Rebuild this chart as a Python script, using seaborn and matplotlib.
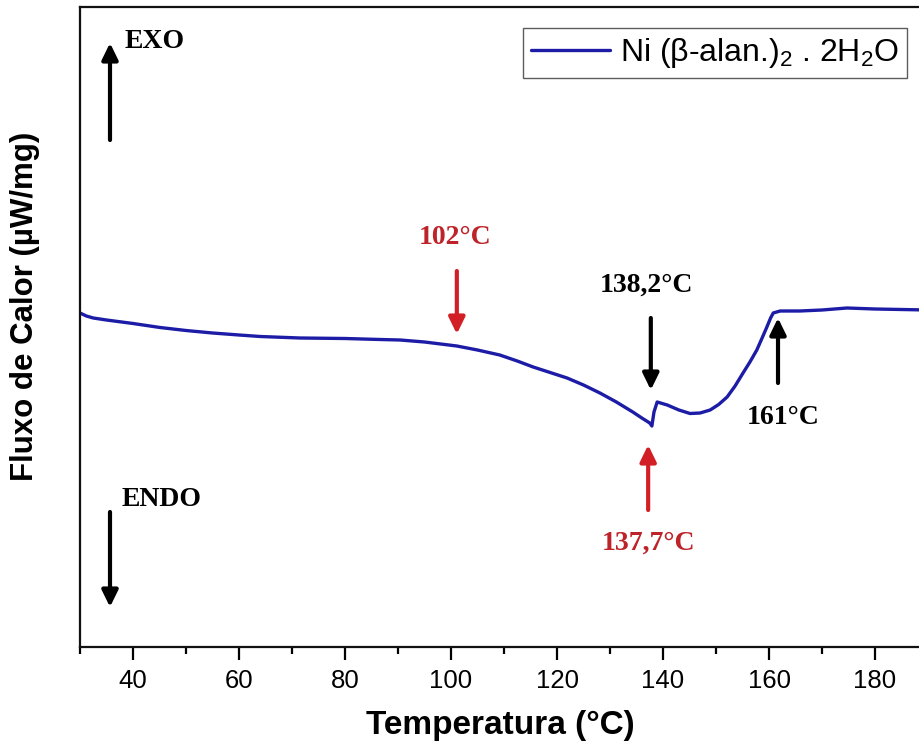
import matplotlib
matplotlib.use("Agg")
import matplotlib.pyplot as plt
import seaborn as sns
import pandas as pd

# ---- data ----
temperature = [30.0, 31.2, 32.5, 35.0, 40.0, 45.1, 50.0, 55.0, 60.0, 64.0,
               71.5, 80.0, 86.6, 90.4, 95.0, 101.1, 105.0, 109.2, 112.5, 115.5,
               118.7, 121.9, 125.0, 128.1, 131.2, 134.3, 136.0, 137.5, 137.9, 138.3,
               138.9, 140.8, 143.0, 145.1, 147.0, 148.9, 150.5, 152.1, 153.6, 155.1,
               156.4, 157.7, 158.7, 159.6, 160.3, 160.8, 162.1, 165.8, 170.0, 174.7,
               180.0, 185.0, 190.0]
heat_flow = [3.34, 3.31, 3.29, 3.27, 3.235, 3.195, 3.165, 3.14, 3.12, 3.105,
             3.09, 3.085, 3.075, 3.07, 3.05, 3.01, 2.97, 2.92, 2.86, 2.80,
             2.745, 2.69, 2.62, 2.54, 2.45, 2.35, 2.29, 2.24, 2.21, 2.35,
             2.45, 2.42, 2.37, 2.335, 2.34, 2.37, 2.425, 2.50, 2.61, 2.74,
             2.85, 2.97, 3.09, 3.20, 3.29, 3.34, 3.36, 3.36, 3.37, 3.39,
             3.38, 3.375, 3.37]
series_label = "Ni (β-alan.)$_2$ . 2H$_2$O"
x_ticks = [40, 60, 80, 100, 120, 140, 160, 180]

sns.set_theme(style="white")
plt.rcParams["font.family"] = ["Liberation Sans", "DejaVu Sans"]
plt.rcParams["mathtext.fontset"] = "custom"
plt.rcParams["mathtext.rm"] = "Liberation Sans"
plt.rcParams["mathtext.it"] = "Liberation Sans:italic"
plt.rcParams["mathtext.bf"] = "Liberation Sans:bold"
plt.rcParams["text.color"] = "black"
plt.rcParams["axes.labelcolor"] = "black"
plt.rcParams["xtick.color"] = "black"
plt.rcParams["ytick.color"] = "black"
plt.rcParams["legend.labelcolor"] = "black"

fig = plt.figure(figsize=(9.19, 7.51), dpi=100)
ax = fig.add_axes([80 / 919, 104 / 751, 848 / 919, 640 / 751])

df = pd.DataFrame({"T": temperature, "flux": heat_flow})
sns.lineplot(data=df, x="T", y="flux", ax=ax, sort=False, estimator=None,
             color="#1c1ca6", linewidth=2.4, label=series_label)

ax.set_xlim(30, 190)
ax.set_ylim(0, 6.40)
ax.set_xticks(x_ticks)
ax.set_xticks(range(30, 191, 20), minor=True)
ax.set_yticks([])
ax.tick_params(axis="x", which="major", direction="out", length=9, width=1.6,
               labelsize=18.5, pad=7, bottom=True, colors="black")
ax.tick_params(axis="x", which="minor", direction="out", length=5, width=1.6, bottom=True,
               colors="black")
for s in ["left", "top", "bottom", "right"]:
    ax.spines[s].set_color("#111111")
    ax.spines[s].set_linewidth(1.6)

ax.set_xlabel("Temperatura (°C)", fontsize=24, fontweight="bold", color="black")
ax.xaxis.label.set_va("top")
ax.xaxis.set_label_coords((500 - 80) / 848, (647 - 710) / 640)
ax.set_ylabel("Fluxo de Calor (µW/mg)", fontsize=22.5, fontweight="bold", color="black")
ax.yaxis.label.set_va("center")
ax.yaxis.set_label_coords((25 - 80) / 848, (647 - 306) / 640)

leg = ax.legend(loc="upper right", bbox_to_anchor=(907 / 919, 1 - 28 / 751),
                bbox_transform=fig.transFigure, borderaxespad=0, fontsize=23,
                frameon=True, fancybox=False, handlelength=2.5, handletextpad=0.3,
                borderpad=0.25)
leg.get_frame().set_edgecolor("#333333")
leg.get_frame().set_linewidth(1.0)
for t in leg.get_texts():
    t.set_color("black")

serif = ["Liberation Serif", "DejaVu Serif"]
red_arrow = "#d21f26"
red_text = "#bd2329"


def arrow(x0, y0, x1, y1, color):
    ax.annotate("", xy=(x1, y1), xytext=(x0, y0),
                arrowprops=dict(arrowstyle="-|>,head_length=0.45,head_width=0.22",
                                color=color, lw=3, mutation_scale=22,
                                shrinkA=0, shrinkB=0))


def label(x, y, s, color, ha="center"):
    ax.text(x, y, s, color=color, fontsize=20, fontweight="bold", family=serif,
            ha=ha, va="center")


# EXO / ENDO
arrow(35.66, 5.07, 35.66, 6.04, "black")
label(38.5, 6.06, "EXO", "black", ha="left")
arrow(35.66, 1.35, 35.66, 0.40, "black")
label(37.9, 1.47, "ENDO", "black", ha="left")

# 102 °C
label(100.8, 4.10, "102°C", red_text)
arrow(101.1, 3.76, 101.1, 3.13, red_arrow)

# 138,2 °C
label(136.8, 3.62, "138,2°C", "black")
arrow(137.7, 3.29, 137.7, 2.57, "black")

# 137,7 °C
arrow(137.2, 1.37, 137.2, 2.02, red_arrow)
label(137.2, 1.04, "137,7°C", red_text)

# 161 °C
arrow(161.7, 2.64, 161.7, 3.29, "black")
label(162.6, 2.29, "161°C", "black")

fig.savefig("out.png", dpi=100, facecolor="white")
